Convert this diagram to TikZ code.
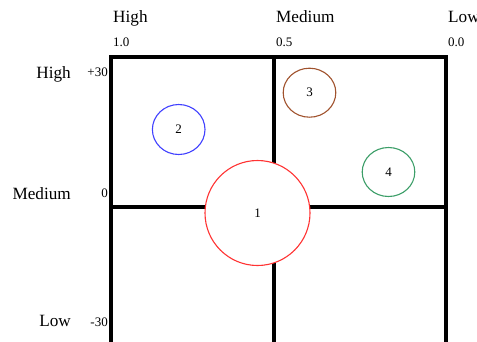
\documentclass[tikz,border=0pt]{standalone}
\usepackage{fontspec}
\setmainfont{Liberation Serif}
\usetikzlibrary{shapes.geometric}
\definecolor{cred}{HTML}{FF3333}
\definecolor{cblue}{HTML}{4040FF}
\definecolor{cbrown}{HTML}{A0522D}
\definecolor{cgreen}{HTML}{3C9E68}
\begin{document}
\begin{tikzpicture}[x=1pt,y=-1pt,
  bigl/.style={font=\fontsize{17.2}{19}\selectfont,inner sep=0pt},
  smalll/.style={font=\fontsize{13}{15}\selectfont,inner sep=0pt},
  frameline/.style={line width=3.6pt},
  bubble/.style={ellipse,draw,line width=1.1pt,inner sep=0pt,minimum width=52.6pt,minimum height=49pt,fill=white,font=\fontsize{13}{15}\selectfont}]
\useasboundingbox (0,0) rectangle (477,341);
\clip (0,0) rectangle (477,341);
% axis labels top
\node[bigl,anchor=base west] (th) at (113,22) {High};
\node[bigl,anchor=base west] (tm) at (276,22) {Medium};
\node[bigl,anchor=base west] (tl) at (448,22) {Low};
\node[smalll,anchor=base west] (t1) at (113,46.5) {1.0};
\node[smalll,anchor=base west] (t2) at (276,46.5) {0.5};
\node[smalll,anchor=base west] (t3) at (448,46.5) {0.0};
% axis labels left
\node[bigl,anchor=base east] (lh) at (71,78) {High};
\node[bigl,anchor=base east] (lm) at (71,199) {Medium};
\node[bigl,anchor=base east] (ll) at (71,326.5) {Low};
\node[smalll,anchor=base east] (v1) at (108,76.5) {+30};
\node[smalll,anchor=base east] (v2) at (108,197.5) {0};
\node[smalll,anchor=base east] (v3) at (108,326.5) {-30};
% frame
\coordinate (tlc) at (111,57);
\coordinate (brc) at (446,370);
\coordinate (mt) at (274,57);
\coordinate (mb) at (274,370);
\coordinate (ml) at (111,207);
\coordinate (mr) at (446,207);
\draw[frameline] (tlc) rectangle (brc);
\draw[frameline] (mt) -- (mb);
\draw[frameline] (ml) -- (mr);
% bubbles
\node[bubble,draw=cred,minimum width=105pt,minimum height=105pt] (b1) at (257.5,213) {1};
\node[bubble,draw=cblue,minimum height=50pt] (b2) at (178.7,129.5) {2};
\node[bubble,draw=cbrown] (b3) at (309.5,92.7) {3};
\node[bubble,draw=cgreen] (b4) at (388.5,172) {4};
\end{tikzpicture}
\end{document}
